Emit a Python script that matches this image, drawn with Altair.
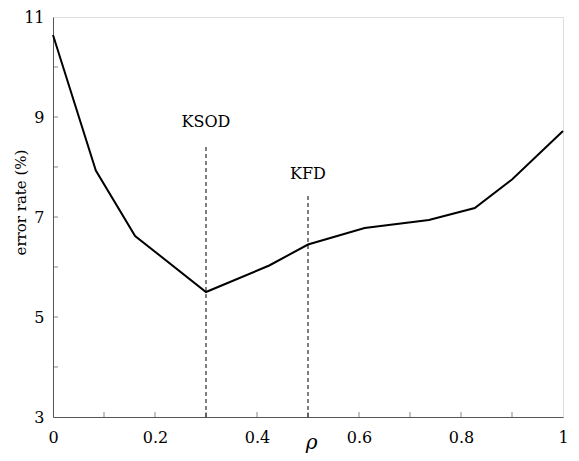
import altair as alt
import pandas as pd

# main curve
rho = [0.0, 0.084, 0.161, 0.30, 0.424, 0.50, 0.611, 0.737, 0.827, 0.90, 1.0]
err = [10.64, 7.93, 6.62, 5.50, 6.03, 6.45, 6.78, 6.94, 7.18, 7.75, 8.72]

# marker lines
marker_names = ["KSOD", "KFD"]
marker_rho = [0.3, 0.5]
marker_top = [8.43, 7.44]
marker_label_y = [8.90, 7.87]

# axis ticks
x_label_ticks = [0, 0.2, 0.4, 0.6, 0.8, 1.0]
x_minor_ticks = [0.1, 0.2, 0.3, 0.4, 0.5, 0.6, 0.7, 0.8, 0.9]
y_label_ticks = [3, 5, 7, 9, 11]
y_minor_ticks = [4, 5, 6, 7, 8, 9, 10]

X_MIN, X_MAX = 0, 1
Y_MIN, Y_MAX = 3, 11

FONT = "DejaVu Serif"

curve = pd.DataFrame({"rho": rho, "err": err})
markers = pd.DataFrame({"name": marker_names, "rho": marker_rho,
                        "top": marker_top, "ly": marker_label_y,
                        "base": [Y_MIN] * len(marker_names)})
xt = pd.DataFrame({"v": x_minor_ticks, "y0": [Y_MIN] * len(x_minor_ticks)})
yt = pd.DataFrame({"v": y_minor_ticks, "x0": [X_MIN] * len(y_minor_ticks)})

xscale = alt.Scale(domain=[X_MIN, X_MAX], nice=False)
yscale = alt.Scale(domain=[Y_MIN, Y_MAX], nice=False)

xaxis = alt.Axis(values=x_label_ticks, format="~g", grid=False, ticks=False,
                 labelFlush=False,
                 domainColor="#555", labelFont=FONT, labelFontSize=16,
                 labelColor="black", labelPadding=12, title="ρ",
                 titleFont=FONT, titleFontSize=20, titleFontStyle="italic",
                 titleFontWeight="normal", titleColor="black",
                 titleBaseline="alphabetic", titleY=31, titleX=258)
yaxis = alt.Axis(values=y_label_ticks, format="~g", grid=False, ticks=False,
                 labelFlush=False,
                 domainColor="#555", labelFont=FONT, labelFontSize=16,
                 labelColor="black", labelPadding=9, title="error rate (%)",
                 titleFont=FONT, titleFontSize=15, titleFontWeight="normal",
                 titleColor="black", titleBaseline="middle", titleX=-33,
                 titleY=185, titleAngle=-90)

line = alt.Chart(curve).mark_line(color="black", strokeWidth=2).encode(
    x=alt.X("rho:Q", scale=xscale, axis=xaxis),
    y=alt.Y("err:Q", scale=yscale, axis=yaxis),
)

rules = alt.Chart(markers).mark_rule(color="black", strokeWidth=1,
                                     strokeDash=[4, 3]).encode(
    x=alt.X("rho:Q", scale=xscale),
    y=alt.Y("base:Q", scale=yscale),
    y2=alt.Y2("top:Q"),
)

labels = alt.Chart(markers).mark_text(font=FONT, fontSize=16, color="black",
                                      baseline="middle", align="center").encode(
    x=alt.X("rho:Q", scale=xscale),
    y=alt.Y("ly:Q", scale=yscale),
    text="name:N",
)

xticks = alt.Chart(xt).mark_tick(orient="vertical", size=10, thickness=1,
                                 color="#555", clip=True).encode(
    x=alt.X("v:Q", scale=xscale),
    y=alt.Y("y0:Q", scale=yscale),
)

yticks = alt.Chart(yt).mark_tick(orient="horizontal", size=10, thickness=1,
                                 color="#555", clip=True).encode(
    y=alt.Y("v:Q", scale=yscale),
    x=alt.X("x0:Q", scale=xscale),
)

chart = alt.layer(xticks, yticks, rules, line, labels).properties(
    width=510, height=400,
    autosize=alt.AutoSizeParams(type="none"),
    padding={"left": 45, "top": 9, "right": 8, "bottom": 36},
).configure_view(stroke=None).configure(background="white")

chart.save("out.html", embed_options={"renderer": "svg", "actions": False})
